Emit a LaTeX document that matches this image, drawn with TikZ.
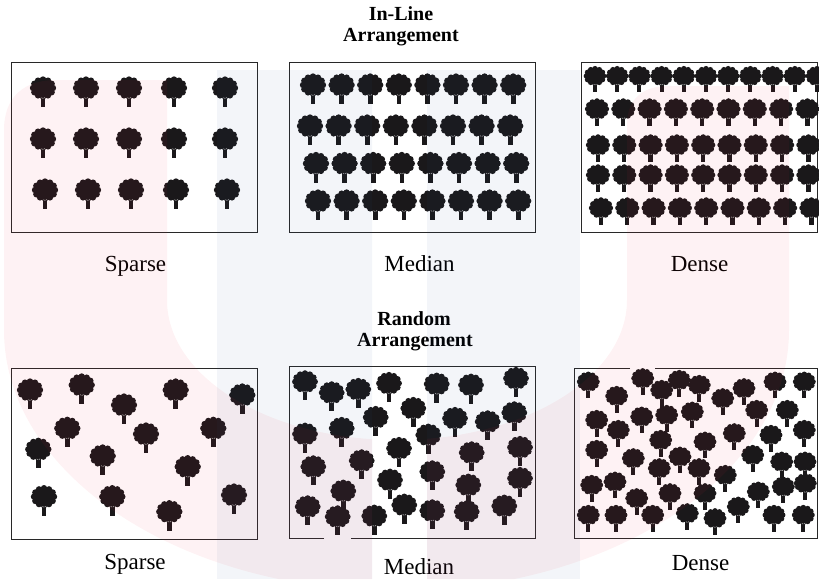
\documentclass[tikz,border=0pt]{standalone}
\usepackage{fontspec}
\setmainfont{Liberation Serif}

\definecolor{treecol}{RGB}{26,24,26}
\definecolor{frm}{RGB}{40,40,40}
\definecolor{wmred}{RGB}{230,40,60}
\definecolor{wmblue}{RGB}{40,80,150}

\tikzset{
  frame/.style={draw=frm, line width=1pt},
  lbl/.style={font=\fontsize{23}{26}\selectfont, anchor=base, inner sep=0pt},
  head/.style={font=\fontsize{20}{22}\selectfont\bfseries, anchor=base, inner sep=0pt},
  tree/.pic={
    % crown, a blob with a scalloped rim
    \fill[treecol] (0,0) ellipse [x radius=11.5, y radius=10];
    \foreach \a in {0,30,...,330}
      \fill[treecol] ({10*cos(\a)},{8.5*sin(\a)}) circle (3.2);
    % trunk
    \fill[treecol] (-2.3,8) rectangle (2.3,19);
    \draw[gray!60, line width=0.5pt] (-1.6,9.6) -- (-0.3,10.4) (0.6,10.4) -- (1.8,9.4);
  }
}

\begin{document}
\begin{tikzpicture}[x=1pt,y=-1pt]
\useasboundingbox (0,0) rectangle (819,579);

% ---- in-line arrangement
\node[head] (hinl) at (401,20) {In-Line};
\node[head] (hinl2) at (401,41) {Arrangement};

\draw[frame] (11.5,62.8) rectangle (257.6,232.6);
\draw[frame] (289,62.8) rectangle (535.5,232.6);
\draw[frame] (581.5,62.8) rectangle (817.5,232.6);

% sparse
\foreach \y/\dx in {88/0,139/0,190/2}
  \foreach \x in {43,86,129,174,225}
    \pic at (\x+\dx,\y) {tree};
% median
\foreach \y/\xs in {85/313,126/310,163.5/316,201/318}
  \foreach \i in {0,...,7}
    \pic[scale=1.0] at ({\xs+28.6*\i},\y) {tree};
% dense
\foreach \i in {0,...,10}
  \pic[scale=0.86] at ({595+22.2*\i},76) {tree};
\foreach \y/\xs in {109/597,145/598,175/598,208/601}
  \foreach \i in {0,...,8}
    \pic[scale=0.92] at ({\xs+26.3*\i},\y) {tree};

\node[lbl] (spa1) at (135.5,271) {Sparse};
\node[lbl] (med1) at (419.5,271) {Median};
\node[lbl] (den1) at (699.5,271) {Dense};

% ---- random arrangement
\node[head] (hran) at (414,325) {Random};
\node[head] (hran2) at (415,346) {Arrangement};

\draw[frame] (11.5,368) rectangle (257.6,539);
\draw[frame] (324,538.4) -- (289,538.4) -- (289,366.7) -- (535.5,366.7) -- (535.5,538.4) -- (351,538.4);
\draw[frame] (630,368) -- (574,368) -- (574,538) -- (817.5,538) -- (817.5,368) -- (655,368);

% sparse
\foreach \x/\y in {30/390,81.7/385,124/405,175.7/390,242.3/395,67.3/428.3,38.3/449.3,
    146/434,102.7/456,213.3/428.3,187.7/466.7,44/496.7,112.3/496.7,169.3/511.7,234/495}
  \pic at (\x,\y) {tree};
% median
\foreach \x/\y in {305/381.7,331.7/392.7,358.3/389.3,389/383.3,436.7/384,471/385,516/378.3,
    413.3/408.3,375.7/417.3,455/418.3,487.7/421.7,514.3/412.7,305/434,341.7/428.3,
    428.3/435,399/448.3,471.7/452.7,520/447.3,313.3/466.7,361.7/460.7,390/480,
    432.3/471.7,468.3/485,520/478.3,343.3/491,307.7/506.7,337.7/516.7,374.3/516,
    404.3/505,432.3/510.7,466.7/511.7,504.3/506}
  \pic[scale=0.98] at (\x,\y) {tree};
% dense
\foreach \x/\y in {588.3/381.7,642.7/378.3,661.7/390,679.3/380,699.3/385,616.7/396,
    722.7/398.3,744/388.3,775/381.7,804.3/381.7,
    596.7/420,618.3/430,641.7/416.7,666.7/415,692.3/411.7,756.7/410,787.3/410,
    734.3/433.3,771/435,804.3/430,
    596.7/450,633.3/458.3,660.7/440,680/456.7,705/441.7,659.3/468.3,699/468.3,
    752.7/455,781.7/461.7,805/461.7,
    591.7/485,615/481.7,636.7/498.3,670/493.3,705/493.3,725.3/475,758.3/491.7,
    783.3/486.7,805.3/483.3,
    588.3/515,616/515,652.7/515,687.3/513.3,715/518.3,738.3/506.7,774/515,803.3/515}
  \pic[scale=0.87] at (\x,\y) {tree};

\node[lbl] (spa2) at (135,569) {Sparse};
\node[lbl] (med2) at (419,574) {Median};
\node[lbl] (den2) at (700.5,570.5) {Dense};

% ---- faint emblem behind everything
\begin{scope}
  \clip (0,0) rectangle (372,579) (427,0) rectangle (819,579);
  \fill[wmblue, fill opacity=0.055] (217,70) rectangle (580,579);
  \fill[wmred, fill opacity=0.06]
    (4,130) .. controls (4,97) and (24,80) .. (56,80) -- (167,80) -- (167,300)
    arc[start angle=180, end angle=0, x radius=230, y radius=140]
    -- (627,124) .. controls (627,100) and (642,86) .. (668,86) -- (789,86) -- (789,330)
    arc[start angle=0, end angle=180, x radius=392.5, y radius=261] -- cycle;
\end{scope}
\end{tikzpicture}
\end{document}
